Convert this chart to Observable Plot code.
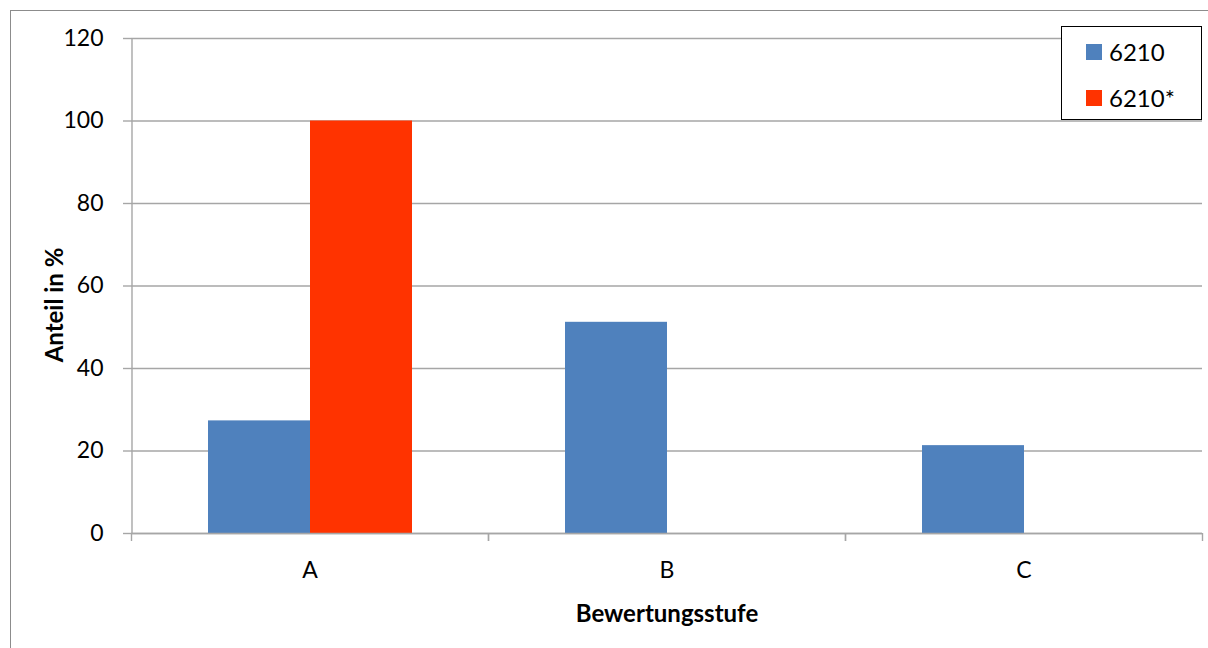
<!DOCTYPE html>
<html>
<head>
<meta charset="utf-8">
<script src="https://cdn.jsdelivr.net/npm/d3@7"></script>
<script src="https://cdn.jsdelivr.net/npm/@observablehq/plot@0.6"></script>
<style>
  html, body { margin: 0; padding: 0; background: #fff; overflow: hidden; }
  #wrap { position: relative; width: 1208px; height: 648px; overflow: hidden; font-family: Lato, "Open Sans", sans-serif; }
  #outer { position: absolute; left: 10px; top: 10px; width: 1400px; height: 900px; border: 1.5px solid #8c8c8c; box-sizing: border-box; }
  #chart { position: absolute; left: 0; top: 0; }
  .title { position: absolute; font-weight: bold; font-size: 24px; color: #000; white-space: nowrap; line-height: 1; }
  #ytitle { left: 54px; top: 305px; transform: translate(-50%, -50%) rotate(-90deg); }
  #xtitle { left: 667px; top: 613px; transform: translate(-50%, -50%); }
  #legend { position: absolute; left: 1061px; top: 26px; width: 141px; height: 94px; box-sizing: border-box; border: 1.5px solid #000; background: #fff; }
  .item { position: absolute; left: 24px; display: flex; align-items: center; font-size: 24px; line-height: 1; }
  .sw { width: 16px; height: 16px; margin-right: 7px; }
</style>
</head>
<body>
<div id="wrap">
  <div id="outer"></div>
  <div id="chart"></div>
  <div class="title" id="ytitle">Anteil in %</div>
  <div class="title" id="xtitle">Bewertungsstufe</div>
  <div id="legend"></div>
</div>
<script>
const categories = ["A", "B", "C"];
const series = ["6210", "6210*"];
const values6210 = [27.3, 51.2, 21.3];
const values6210star = [100, 0, 0];
const yTicks = [0, 20, 40, 60, 80, 100, 120];
const colors = ["#4f81bd", "#ff3300"];

const data = [];
categories.forEach((c, i) => {
  data.push({cat: c, series: series[0], value: values6210[i]});
  data.push({cat: c, series: series[1], value: values6210star[i]});
});

const W = 1208, H = 648, ml = 131, mt = 38, mr = 6, mb = 115;
const outerPad = 0.75;
const facetStep = (W - ml - mr) / categories.length;
const xStep = facetStep / (series.length + 2 * outerPad);
const gridColor = "#a6a6a6";

const chart = Plot.plot({
  width: W, height: H,
  marginLeft: ml, marginTop: mt, marginRight: mr, marginBottom: mb,
  style: {fontFamily: "Lato, 'Open Sans', sans-serif", fontSize: "23px", color: "#000", background: "transparent", overflow: "visible"},
  fx: {domain: categories, padding: 0, axis: null},
  x: {domain: series, paddingOuter: outerPad, paddingInner: 0, axis: null},
  y: {domain: [0, 120], axis: null},
  color: {domain: series, range: colors},
  marks: [
    Plot.gridY(yTicks, {stroke: gridColor, strokeOpacity: 1, strokeWidth: 1.4}),
    Plot.barY(data.filter(d => d.value > 0), {fx: "cat", x: "series", y: "value", fill: "series"}),
    Plot.ruleY([0], {stroke: gridColor, strokeWidth: 1.4}),
    // vertical value-axis line at the left edge of the first category
    Plot.ruleX([{cat: categories[0]}], {fx: "cat", x: () => series[0], y1: 0, y2: 120, dx: -(outerPad + 0.5) * xStep, stroke: gridColor, strokeWidth: 1.4}),
    Plot.axisY(yTicks, {tickSize: 8, tickPadding: 20, stroke: gridColor, strokeWidth: 1.4, label: null, fontSize: 23}),
    // category boundary tick marks
    Plot.axisFx({anchor: "bottom", tickSize: 8, text: null, label: null, dx: -facetStep / 2, stroke: gridColor, strokeWidth: 1.4}),
    Plot.axisFx({anchor: "bottom", tickSize: 8, text: null, label: null, dx: facetStep / 2, stroke: gridColor, strokeWidth: 1.4}),
    Plot.axisFx({anchor: "bottom", tickSize: 0, tickPadding: 28, label: null, fontSize: 23})
  ]
});
document.getElementById("chart").appendChild(chart);

const legend = document.getElementById("legend");
series.forEach((s, i) => {
  const item = document.createElement("div");
  item.className = "item";
  item.style.top = (i === 0 ? 13 : 59) + "px";
  const sw = document.createElement("div");
  sw.className = "sw";
  sw.style.background = colors[i];
  const t = document.createElement("span");
  t.textContent = s;
  item.appendChild(sw);
  item.appendChild(t);
  legend.appendChild(item);
});
</script>
</body>
</html>
